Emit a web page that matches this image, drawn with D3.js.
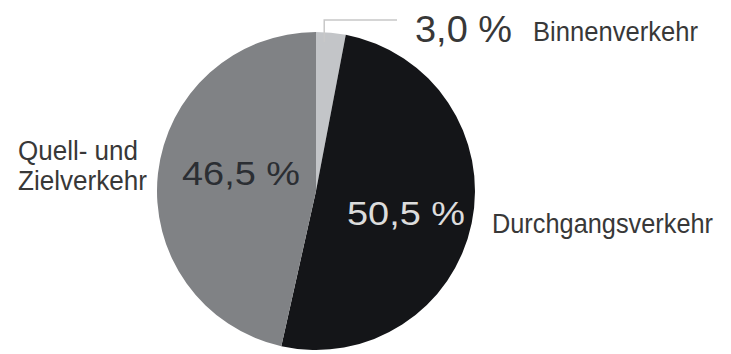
<!DOCTYPE html>
<html>
<head>
<meta charset="utf-8">
<script src="https://cdn.jsdelivr.net/npm/d3@7"></script>
<style>
  body { margin: 0; background: #fff; }
  text { font-family: "Liberation Sans", Arial, sans-serif; }
</style>
</head>
<body>
<svg id="pie"></svg>
<script>
// shares of traffic, clockwise from 12 o'clock
var categories = ["Binnenverkehr", "Durchgangsverkehr", "Quell- und Zielverkehr"];
var values = [3.0, 50.5, 46.5];
var valueLabels = ["3,0 %", "50,5 %", "46,5 %"];
var nameLines = [["Binnenverkehr"], ["Durchgangsverkehr"], ["Quell- und", "Zielverkehr"]];

var width = 731, height = 354;
var cx = 316, cy = 191, radius = 159;
var colors = ["#c3c5c8", "#141518", "#808285"];

var svg = d3.select("#pie")
  .attr("width", width)
  .attr("height", height);

var g = svg.append("g")
  .attr("transform", "translate(" + cx + "," + cy + ")");

var pie = d3.pie().sort(null).value(function(d){ return d; });
var arcs = pie(values);
var arc = d3.arc().innerRadius(0).outerRadius(radius);

g.selectAll("path")
  .data(arcs)
  .enter()
  .append("path")
  .attr("d", arc)
  .attr("fill", function(d, i){ return colors[i]; });

// leader line for the small slice
var small = arcs[0];
var mid = (small.startAngle + small.endAngle) / 2;
var lx = Math.sin(mid) * radius * 0.55;
g.append("polyline")
  .attr("points", [[lx, -radius + 10], [lx, -171], [81, -171]].join(" "))
  .attr("fill", "none")
  .attr("stroke", "#c8c8c8")
  .attr("stroke-width", 1.5);

// percent labels: [x, y, size, width, color] relative to pie centre
var pctPos = [
  [99, -149, 36, 97, "#383838"],
  [31, 34, 34, 118, "#dcdcdc"],
  [-134, -6, 34, 118, "#2b2e33"]
];
g.selectAll("text.pct")
  .data(arcs)
  .enter()
  .append("text")
  .attr("class", "pct")
  .attr("x", function(d, i){ return pctPos[i][0]; })
  .attr("y", function(d, i){ return pctPos[i][1]; })
  .attr("font-size", function(d, i){ return pctPos[i][2]; })
  .attr("textLength", function(d, i){ return pctPos[i][3]; })
  .attr("lengthAdjust", "spacingAndGlyphs")
  .attr("fill", function(d, i){ return pctPos[i][4]; })
  .text(function(d, i){ return valueLabels[i]; });

// category names: [x, y, width per line]
var namePos = [
  [217, -150, [165]],
  [176, 42, [221]],
  [-298, -31, [120, 129]]
];
nameLines.forEach(function(lines, i){
  var t = g.append("text")
    .attr("font-size", 27)
    .attr("fill", "#383838");
  lines.forEach(function(line, j){
    t.append("tspan")
      .attr("x", namePos[i][0])
      .attr("y", namePos[i][1] + j * 30)
      .attr("textLength", namePos[i][2][j])
      .attr("lengthAdjust", "spacingAndGlyphs")
      .text(line);
  });
});
</script>
</body>
</html>
